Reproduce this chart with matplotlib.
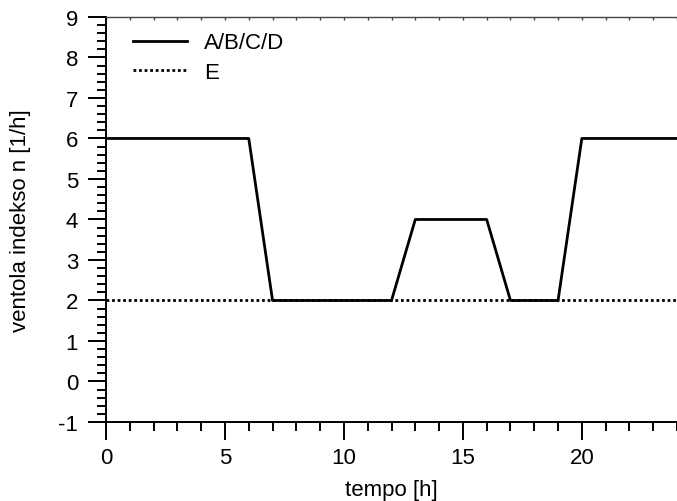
import numpy as np
import matplotlib
matplotlib.use('Agg')
import matplotlib.pyplot as plt
from matplotlib.ticker import MultipleLocator

plt.rcParams['font.family'] = ['Liberation Sans', 'DejaVu Sans']
plt.rcParams['axes.unicode_minus'] = False

# data
time_abcd = [0, 6, 7, 12, 13, 16, 17, 19, 20, 24]
n_abcd = [6, 6, 2, 2, 4, 4, 2, 2, 6, 6]
time_e = [0, 24]
n_e = [2, 2]

fig = plt.figure(figsize=(6.77, 5.02), dpi=100)
ax = fig.add_axes([0.1566, 0.1574, 0.8434, 0.8068])

ax.plot(time_abcd, n_abcd, color='black', linewidth=2.0, label='A/B/C/D')
ax.plot(time_e, n_e, color='black', linewidth=2.0, linestyle=(0, (1, 1)), label='E')

ax.set_xlim(0, 24)
ax.set_ylim(-1, 9)
ax.xaxis.set_major_locator(MultipleLocator(5))
ax.xaxis.set_minor_locator(MultipleLocator(1))
ax.yaxis.set_major_locator(MultipleLocator(1))
ax.yaxis.set_minor_locator(MultipleLocator(0.2))

ax.spines['right'].set_visible(False)
for s in ['left', 'bottom']:
    ax.spines[s].set_linewidth(1.4)
ax.spines['top'].set_linewidth(1.0)
ax.spines['top'].set_color('#444444')

ax.tick_params(which='major', direction='out', length=13, width=1.4, labelsize=16)
ax.tick_params(axis='x', which='major', pad=5)
ax.tick_params(axis='y', which='major', pad=7)
ax.tick_params(which='minor', direction='out', length=6.5, width=1.4)

# small inward ticks on the top edge
top = ax.secondary_xaxis('top')
top.xaxis.set_major_locator(MultipleLocator(1))
top.tick_params(direction='in', length=2.5, width=1, labeltop=False, color='#444444')
top.spines['top'].set_visible(False)

ax.set_xlabel('tempo [h]', fontsize=16, labelpad=8)
ax.set_ylabel('ventola indekso n [1/h]', fontsize=16, labelpad=20)

ax.legend(loc='upper left', frameon=False, fontsize=16, handlelength=2.45,
          handletextpad=0.75, labelspacing=0.4, borderpad=0, borderaxespad=0,
          bbox_to_anchor=(0.047, 0.962))

fig.savefig('out.png', dpi=100)
